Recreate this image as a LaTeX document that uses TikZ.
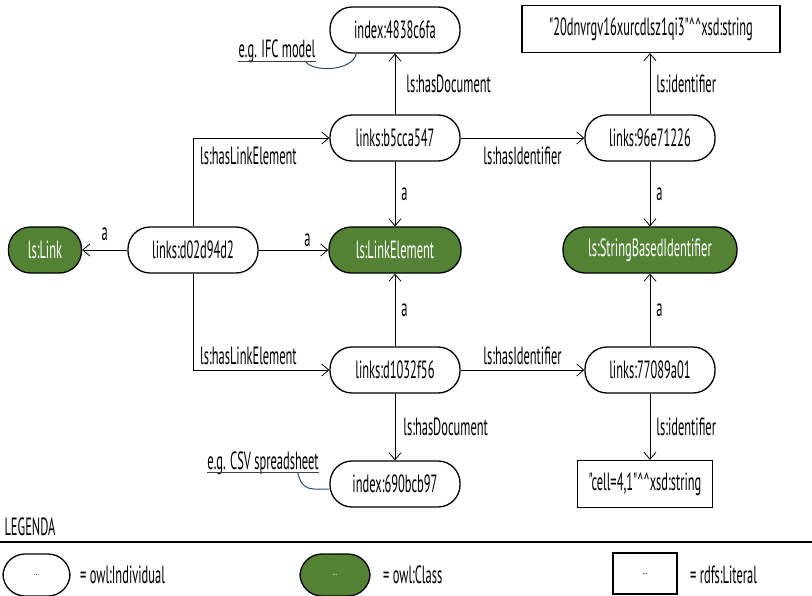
\documentclass[tikz,border=0pt]{standalone}
\usepackage{fontspec}
\setmainfont[FakeStretch=0.5,Ligatures=TeXOff]{PT Sans}
\usetikzlibrary{arrows.meta}
\definecolor{owlgreen}{HTML}{538235}
\definecolor{notecol}{HTML}{2E4A6B}
\begin{document}
\begin{tikzpicture}[x=1bp,y=-1bp,
  every node/.style={font=\fontsize{25}{27}\selectfont},
  ind/.style={draw, line width=1.3bp, rounded corners=22bp, minimum width=130bp,
    minimum height=46bp, inner sep=0pt, fill=white},
  cls/.style={ind, fill=owlgreen, text=white},
  lit/.style={draw, line width=1.3bp, rectangle, minimum height=47bp, inner sep=0pt, fill=white},
  edge/.style={line width=0.8bp, -{Straight Barb[length=7bp,width=12bp]}},
  lbl/.style={inner sep=0pt},
  notetext/.style={inner sep=0pt},
  uline/.style={line width=0.8bp, black!75},
  noteline/.style={line width=1bp, notecol},
  dots/.style={font=\fontsize{12}{13}\selectfont}
]
\path[use as bounding box] (0,0) rectangle (812,596);

% resources
\node[ind] (doc1) at (395,30) {index:4838c6fa};
\node[lit, minimum width=258bp] (lit1) at (651,29)
  {"20dnvrgv16xurcdlsz1qi3"\textasciicircum\textasciicircum xsd:string};
\node[ind] (le1) at (395,138) {links:b5cca547};
\node[ind] (id1) at (650,138) {links:96e71226};
\node[cls, minimum width=73bp] (link) at (45,250) {ls:Link};
\node[ind] (lnk) at (193,250) {links:d02d94d2};
\node[cls, minimum width=132bp] (lec) at (395,250) {ls:LinkElement};
\node[cls, minimum width=174bp] (sbi) at (650,250) {ls:StringBasedIdentifier};
\node[ind] (le2) at (395,370) {links:d1032f56};
\node[ind] (id2) at (650,370) {links:77089a01};
\node[ind] (doc2) at (395,484) {index:690bcb97};
\node[lit, minimum width=135bp] (lit2) at (645,484)
  {"cell=4,1"\textasciicircum\textasciicircum xsd:string};

% properties
\draw[edge] (lnk) -- node[lbl, above=9bp] {a} (link);
\draw[edge] (lnk) -- node[lbl, pos=0.7, above=3bp] {a} (lec);
\draw[edge] (lnk.north) |- (le1.west) coordinate[pos=0.5] (c1);
\node[lbl, anchor=north west] at ([xshift=7bp,yshift=-9bp]c1) {ls:hasLinkElement};
\draw[edge] (lnk.south) |- (le2.west) coordinate[pos=0.5] (c2);
\node[lbl, anchor=south west] at ([xshift=7bp,yshift=5bp]c2) {ls:hasLinkElement};

\draw[edge] (le1) -- node[lbl, right=11bp] {ls:hasDocument} (doc1);
\draw[edge] (le1) -- node[lbl, right=6bp] {a} (lec);
\draw[edge] (le2) -- node[lbl, right=6bp] {a} (lec);
\draw[edge] (le2) -- node[lbl, right=8bp] {ls:hasDocument} (doc2);
\draw[edge] (le1) -- node[lbl, below=8bp] {ls:hasIdentifier} (id1);
\draw[edge] (le2) -- node[lbl, above=5bp] {ls:hasIdentifier} (id2);

\draw[edge] (id1) -- node[lbl, right=6bp] {ls:identifier} (id1 |- lit1.south);
\draw[edge] (id1) -- node[lbl, right=6bp] {a} (sbi);
\draw[edge] (id2) -- node[lbl, right=6bp] {a} (sbi);
\draw[edge] (id2) -- node[lbl, right=6bp] {ls:identifier} (id2 |- lit2.north);

% annotations
\node[notetext, anchor=base] (n1) at (277,58) {e.g. IFC model};
\draw[uline] ([yshift=-3.5bp]n1.base west) -- ([yshift=-3.5bp]n1.base east);
\draw[noteline] ([xshift=-10bp,yshift=-3.5bp]n1.base east)
  .. controls (312,72) and (352,72) .. ([xshift=27bp]doc1.south west);
\node[notetext, anchor=base] (n2) at (263,469) {e.g. CSV spreadsheet};
\draw[uline] ([yshift=-3.5bp]n2.base west) -- ([yshift=-3.5bp]n2.base east);
\draw[noteline] ([xshift=-21bp,yshift=-3.5bp]n2.base east)
  .. controls (302,492) and (312,489) .. ([yshift=-5bp]doc2.west);

% legend
\node[lbl] (legtitle) at (30,527) {LEGENDA};
\draw[line width=1.4bp] (0,542) -- (812,542);
\node[ind, minimum width=67bp, minimum height=42bp, dots] (kind) at (36.5,575) {...};
\node[lbl, anchor=west] (kindt) at (80,575) {= owl:Individual};
\node[cls, minimum width=70bp, minimum height=42bp, dots, text=white!85!owlgreen] (kcls) at (335,575) {...};
\node[lbl, anchor=west] (kclst) at (383,575) {= owl:Class};
\node[lit, minimum width=64bp, minimum height=41bp, dots] (klit) at (645,573.5) {...};
\node[lbl, anchor=west] (klitt) at (690,575) {= rdfs:Literal};
\end{tikzpicture}
\end{document}
